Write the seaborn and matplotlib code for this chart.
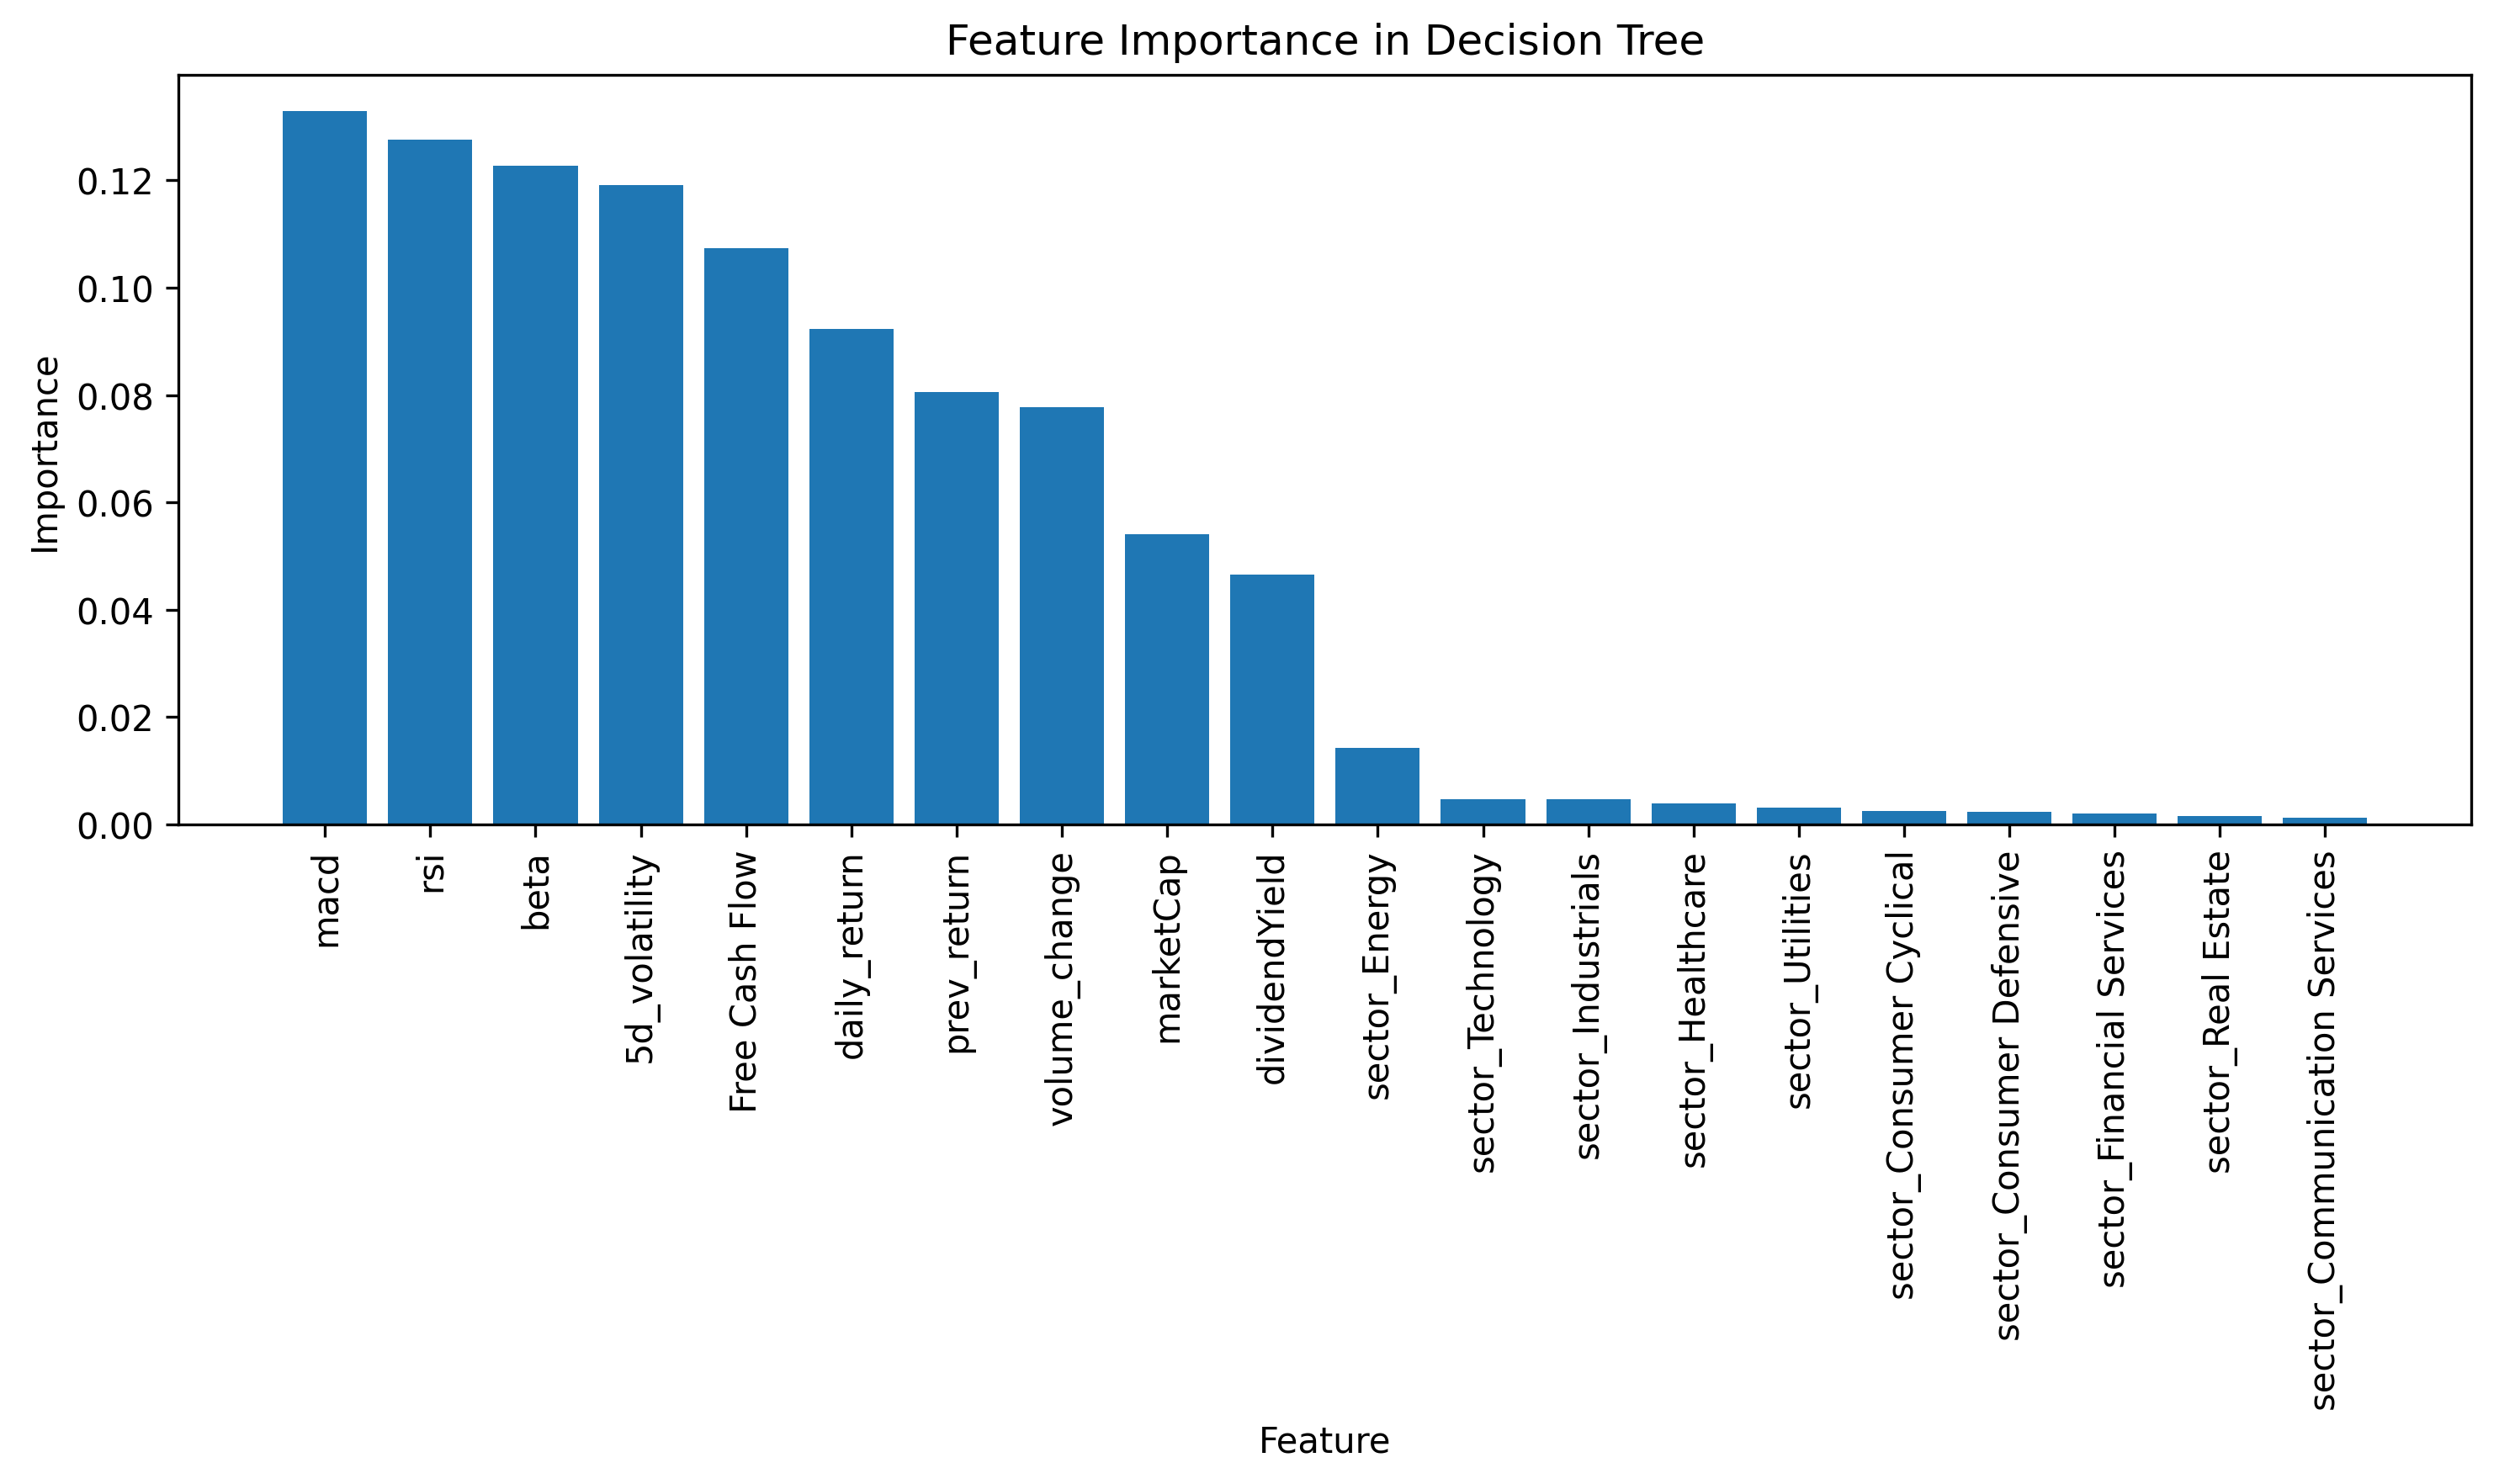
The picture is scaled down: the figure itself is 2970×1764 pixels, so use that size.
import matplotlib
matplotlib.use("Agg")
import matplotlib.pyplot as plt
import seaborn as sns
import pandas as pd

# feature importances
features = ["macd", "rsi", "beta", "5d_volatility", "Free Cash Flow", "daily_return",
            "prev_return", "volume_change", "marketCap", "dividendYield", "sector_Energy",
            "sector_Technology", "sector_Industrials", "sector_Healthcare", "sector_Utilities",
            "sector_Consumer Cyclical", "sector_Consumer Defensive", "sector_Financial Services",
            "sector_Real Estate", "sector_Communication Services"]
importance = [0.1330, 0.1276, 0.1228, 0.1192, 0.1074, 0.0923, 0.0806, 0.0777, 0.0541, 0.0465,
              0.0143, 0.0047, 0.0047, 0.0040, 0.0032, 0.0025, 0.0023, 0.0021, 0.0015, 0.0013]

df = pd.DataFrame({"Feature": features, "Importance": importance})

fig, ax = plt.subplots(figsize=(9.9, 5.883), dpi=300)
sns.barplot(data=df, x="Feature", y="Importance", color="#1f77b4", saturation=1, width=0.8, ax=ax)

n = len(features)
pad = (n - 1 + 0.8) * 0.05
ax.set_xlim(-0.4 - pad, n - 1 + 0.4 + pad)
ax.set_ylim(0, max(importance) * 1.05)
ax.tick_params(axis="x", rotation=90)
ax.set_title("Feature Importance in Decision Tree")
ax.set_xlabel("Feature")
ax.set_ylabel("Importance")

plt.subplots_adjust(left=0.0715, right=0.9890, top=0.9490, bottom=0.4442)
plt.savefig("out.png", dpi=300)
